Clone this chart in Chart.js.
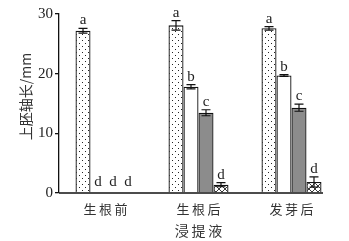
<!DOCTYPE html>
<html><head><meta charset="utf-8">
<script src="https://cdn.jsdelivr.net/npm/chart.js@4/dist/chart.umd.min.js"></script>
<style>html,body{margin:0;padding:0;background:#fff;}#wrap{width:349px;height:241px;}</style>
</head><body><div id="wrap"><canvas id="c" width="349" height="241"></canvas></div>
<script>
const categories = ['生根前', '生根后', '发芽后'];
const series1 = [27.2, 28.1, 27.6];
const series2 = [0, 17.8, 19.7];
const series3 = [0, 13.45, 14.3];
const series4 = [0, 1.4, 1.85];
const err1 = [0.4, 0.8, 0.3];
const err2 = [0, 0.35, 0.15];
const err3 = [0, 0.5, 0.6];
const err4 = [0, 0.35, 0.85];
const letters1 = ['a', 'a', 'a'];
const letters2 = ['d', 'b', 'b'];
const letters3 = ['d', 'c', 'c'];
const letters4 = ['d', 'd', 'd'];
const yTicks = [0, 10, 20, 30];

function makePattern(type) {
  const c = document.createElement('canvas');
  const ctx = c.getContext('2d');
  if (type === 'dots') {
    c.width = 6; c.height = 6;
    ctx.fillStyle = '#fff'; ctx.fillRect(0,0,6,6);
    ctx.fillStyle = '#222';
    ctx.fillRect(1,1,1,1); ctx.fillRect(4,4,1,1);
  } else {
    c.width = 6; c.height = 6;
    ctx.fillStyle = '#fff'; ctx.fillRect(0,0,6,6);
    ctx.strokeStyle = '#222'; ctx.lineWidth = 0.9;
    ctx.beginPath(); ctx.moveTo(0,0); ctx.lineTo(6,6); ctx.moveTo(6,0); ctx.lineTo(0,6); ctx.stroke();
  }
  return document.getElementById('c').getContext('2d').createPattern(c, 'repeat');
}

const spaced = s => s.split('').join('\u2009');
const errs = [err1, err2, err3, err4];
const letters = [letters1, letters2, letters3, letters4];

const errPlugin = {
  id: 'errbars',
  afterDatasetsDraw(chart) {
    const ctx = chart.ctx;
    const y = chart.scales.y;
    ctx.save();
    chart.data.datasets.forEach((ds, di) => {
      const meta = chart.getDatasetMeta(di);
      meta.data.forEach((bar, i) => {
        const v = ds.data[i], e = errs[di][i];
        const x = bar.x;
        let topY = y.getPixelForValue(v + e);
        if (e > 0) {
          const botY = y.getPixelForValue(v - e);
          ctx.strokeStyle = '#111'; ctx.lineWidth = 1.2;
          ctx.beginPath();
          ctx.moveTo(x, topY); ctx.lineTo(x, botY);
          ctx.moveTo(x - 4.5, topY); ctx.lineTo(x + 4.5, topY);
          ctx.moveTo(x - 4.5, botY); ctx.lineTo(x + 4.5, botY);
          ctx.stroke();
        }
        ctx.fillStyle = '#222';
        ctx.font = '15px "Liberation Serif", serif';
        ctx.textAlign = 'center'; ctx.textBaseline = 'alphabetic';
        const gap = v === 0 ? 7 : 4;
        ctx.fillText(letters[di][i], x, topY - gap);
      });
    });
    const lastMeta = chart.getDatasetMeta(chart.data.datasets.length - 1);
    const lastBar = lastMeta.data[lastMeta.data.length - 1];
    const y0 = y.getPixelForValue(0);
    ctx.strokeStyle = '#111'; ctx.lineWidth = 1.3;
    ctx.beginPath();
    ctx.moveTo(chart.chartArea.left, y0);
    ctx.lineTo(lastBar.x + lastBar.width / 2 + 1.5, y0);
    ctx.stroke();
    ctx.restore();
  }
};

const common = { borderColor: '#111', borderWidth: 1.3, categoryPercentage: 0.645, barPercentage: 1.0 };

new Chart(document.getElementById('c'), {
  type: 'bar',
  data: {
    labels: categories,
    datasets: [
      Object.assign({ data: series1, backgroundColor: makePattern('dots') }, common),
      Object.assign({ data: series2, backgroundColor: '#ffffff' }, common),
      Object.assign({ data: series3, backgroundColor: '#8c8c8c' }, common),
      Object.assign({ data: series4, backgroundColor: makePattern('cross') }, common)
    ]
  },
  options: {
    responsive: false,
    animation: false,
    devicePixelRatio: 1,
    layout: { padding: { left: 6, right: 11, top: 14, bottom: 2 } },
    plugins: { legend: { display: false }, tooltip: { enabled: false } },
    scales: {
      x: {
        afterFit(s) { s.height = 46; },
        grid: { display: false, drawTicks: false },
        border: { display: false },
        ticks: { color: '#333', font: { family: '"Noto Sans CJK SC"', size: 13 }, padding: 8,
                 callback(v, i) { return spaced(categories[i]); } },
        title: { display: true, text: spaced('浸提液'), color: '#333', font: { family: '"Noto Sans CJK SC"', size: 14 }, padding: { top: 0, bottom: 0 } }
      },
      y: {
        min: 0, max: 30,
        afterFit(s) { s.width = 53; },
        afterBuildTicks(s) { s.ticks = yTicks.map(v => ({ value: v })); },
        grid: { drawOnChartArea: false, drawTicks: true, tickLength: 4, color: '#111', lineWidth: 1.3 },
        border: { display: true, color: '#111', width: 1.3 },
        ticks: { color: '#222', font: { family: '"Liberation Serif"', size: 15 }, padding: 2 },
        title: { display: true, text: '\u2003上胚轴长/mm', color: '#333', font: { family: '"Noto Sans CJK SC"', size: 14 }, padding: { top: 11, bottom: 0 } }
      }
    }
  },
  plugins: [errPlugin]
});
</script></body></html>
